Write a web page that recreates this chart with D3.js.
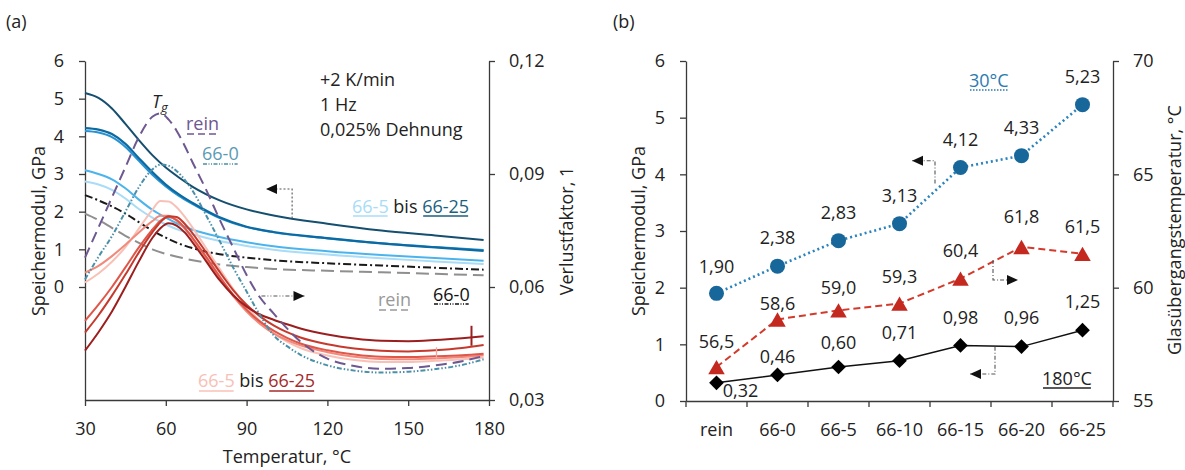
<!DOCTYPE html>
<html><head><meta charset="utf-8">
<script src="https://cdn.jsdelivr.net/npm/d3@7"></script>
<style>
html,body{margin:0;padding:0;background:#fff;}
text{font-family:"Open Sans",sans-serif;font-size:18px;fill:#222;white-space:pre;}
</style></head><body>
<svg id="c" width="1185" height="470"></svg>
<script>
// ---------- DATA ----------
// Panel (a): storage modulus E' (GPa) on a common temperature grid
const tempsE = [30,35,40,45,50,55,60,65,70,80,90,100,120,140,160,178];
const eRein  = [1.95,1.78,1.57,1.36,1.17,1.00,0.88,0.79,0.71,0.60,0.53,0.48,0.43,0.39,0.35,0.31];
const e66_0  = [2.44,2.30,2.14,1.95,1.72,1.50,1.31,1.15,1.03,0.87,0.78,0.71,0.63,0.57,0.51,0.46];
const e66_5  = [2.80,2.72,2.58,2.35,2.07,1.84,1.66,1.51,1.40,1.22,1.09,0.99,0.86,0.76,0.68,0.61];
const e66_10 = [3.10,3.00,2.86,2.62,2.32,2.05,1.84,1.66,1.52,1.33,1.19,1.08,0.95,0.85,0.77,0.70];
const e66_15 = [4.14,4.10,3.98,3.72,3.35,2.98,2.67,2.41,2.20,1.83,1.59,1.45,1.29,1.16,1.06,0.98];
const e66_20 = [4.22,4.18,4.06,3.80,3.42,3.05,2.72,2.45,2.23,1.85,1.60,1.46,1.30,1.16,1.05,0.96];
const e66_25 = [5.15,5.02,4.74,4.33,3.90,3.50,3.17,2.90,2.66,2.30,2.06,1.90,1.68,1.50,1.37,1.25];

// Panel (a): loss factor tan delta on a common temperature grid
const tempsT = [30,35,40,45,50,55,58,61,64,67,70,75,80,85,90,95,100,105,110,120,130,140,150,160,170,178];
const tRein  = [.0678,.0758,.0838,.0918,.0998,.1052,.1061,.1045,.1015,.0975,.0930,.0858,.0779,.0705,.0632,.0572,.0530,.0490,.0455,.0410,.0390,.0383,.0385,.0392,.0403,.0417];
const t66_0  = [.0620,.0680,.0735,.0800,.0865,.0912,.0925,.0922,.0908,.0885,.0855,.0790,.0722,.0652,.0588,.0525,.0472,.0443,.0420,.0392,.0378,.0373,.0375,.0382,.0393,.0408];
const t66_5  = [.0612,.0636,.0667,.0706,.0755,.0805,.0828,.0827,.0812,.0787,.0757,.0703,.0648,.0595,.0548,.0509,.0478,.0455,.0438,.0418,.0406,.0401,.0401,.0404,.0408,.0413];
const t66_10 = [.0638,.0656,.0682,.0712,.0745,.0775,.0789,.0789,.0776,.0755,.0728,.0676,.0624,.0576,.0535,.0502,.0477,.0459,.0445,.0427,.0415,.0409,.0408,.0410,.0414,.0419];
const t66_15 = [.0510,.0553,.0600,.0652,.0705,.0752,.0776,.0786,.0778,.0757,.0730,.0680,.0628,.0580,.0540,.0508,.0484,.0465,.0450,.0432,.0421,.0415,.0414,.0416,.0419,.0423];
const t66_20 = [.0479,.0525,.0577,.0633,.0692,.0745,.0772,.0788,.0786,.0768,.0742,.0692,.0640,.0592,.0553,.0522,.0498,.0480,.0466,.0448,.0437,.0431,.0429,.0432,.0438,.0446];
const t66_25 = [.0431,.0480,.0535,.0600,.0668,.0730,.0756,.0769,.0763,.0745,.0718,.0668,.0618,.0578,.0548,.0527,.0513,.0501,.0490,.0474,.0463,.0457,.0456,.0459,.0464,.0469];
// small error marks on tan delta curves: [temperature, low, high]
const errMarks = [[173.5,.0444,.0497],[160.5,.0409,.0440]];

// Panel (b)
const categories = ["rein","66-0","66-5","66-10","66-15","66-20","66-25"];
const mod30  = [1.90,2.38,2.83,3.13,4.12,4.33,5.23];
const mod180 = [0.32,0.46,0.60,0.71,0.98,0.96,1.25];
const tg     = [56.5,58.6,59.0,59.3,60.4,61.8,61.5];

// tick values
const ticksAx = [30,60,90,120,150,180];
const ticksAL = [0,1,2,3,4,5,6];
const ticksAR = [0.03,0.06,0.09,0.12];
const ticksBL = [0,1,2,3,4,5,6];
const ticksBR = [55,60,65,70];

// ---------- DRAWING ----------
const svg = d3.select("#c");
const loc = d3.formatLocale({decimal:",",thousands:".",grouping:[3],currency:["","€"]});
const f2 = loc.format(".2f"), f1 = loc.format(".1f");
const axisCol = "#3a3a3a";

function styleAxis(g){
  g.select(".domain").attr("stroke",axisCol).attr("stroke-width",1.3);
  g.selectAll(".tick line").attr("stroke",axisCol).attr("stroke-width",1.3);
  g.selectAll(".tick text").style("font-family","Open Sans").style("font-size","18px").attr("fill","#222");
}

// ===== Panel (a) =====
const xA  = d3.scaleLinear([30,180],[85,489]);
const yAL = d3.scaleLinear([-3,6],[400,61]);
const yAR = d3.scaleLinear([0.03,0.12],[400,61]);

svg.append("g").attr("transform","translate(0,400)")
  .call(d3.axisBottom(xA).tickValues(ticksAx).tickFormat(d3.format("d")).tickSize(6).tickSizeOuter(0).tickPadding(16))
  .call(styleAxis);
svg.append("g").attr("transform","translate(85,0)")
  .call(d3.axisLeft(yAL).tickValues(ticksAL).tickFormat(d3.format("d")).tickSize(6).tickSizeOuter(0).tickPadding(15))
  .call(styleAxis);
svg.append("g").attr("transform","translate(489,0)")
  .call(d3.axisRight(yAR).tickValues(ticksAR).tickFormat(f2).tickSize(6).tickSizeOuter(0).tickPadding(14))
  .call(styleAxis);

const lineE = d3.line().x(d=>xA(d[0])).y(d=>yAL(d[1])).curve(d3.curveMonotoneX);
const lineT = d3.line().x(d=>xA(d[0])).y(d=>yAR(d[1])).curve(d3.curveMonotoneX);
const zipE = v => tempsE.map((t,i)=>[t,v[i]]);
const zipT = v => tempsT.map((t,i)=>[t,v[i]]);

const gA = svg.append("g").attr("fill","none");
const tanSeries = [
  {v:t66_5,  c:"#f8c0b6", w:2},
  {v:t66_10, c:"#f08a7c", w:2},
  {v:t66_15, c:"#e0574a", w:2},
  {v:t66_20, c:"#c63a2e", w:2},
  {v:t66_25, c:"#9c1f1f", w:2},
  {v:t66_0,  c:"#4a90a8", w:2, dash:"5,2,1.5,2,1.5,2"},
  {v:tRein,  c:"#6e5891", w:2, dash:"11,6"}
];
const modSeries = [
  {v:eRein,  c:"#8f8f8f", w:2, dash:"13,6"},
  {v:e66_0,  c:"#1a1a1a", w:2, dash:"8,3,2,3"},
  {v:e66_5,  c:"#a8dcf7", w:2},
  {v:e66_10, c:"#4cb4ec", w:2},
  {v:e66_15, c:"#2792d2", w:2},
  {v:e66_20, c:"#0c6aa2", w:2.2},
  {v:e66_25, c:"#154f70", w:2}
];
modSeries.forEach(s=>{
  gA.append("path").attr("d",lineE(zipE(s.v))).attr("stroke",s.c).attr("stroke-width",s.w)
    .attr("stroke-dasharray",s.dash||null);
});
tanSeries.forEach(s=>{
  gA.append("path").attr("d",lineT(zipT(s.v))).attr("stroke",s.c).attr("stroke-width",s.w)
    .attr("stroke-dasharray",s.dash||null);
});
const errCols = ["#9c1f1f","#f4a69a"];
errMarks.forEach((m,i)=>{
  gA.append("line").attr("x1",xA(m[0])).attr("x2",xA(m[0])).attr("y1",yAR(m[1])).attr("y2",yAR(m[2]))
    .attr("stroke",errCols[i]).attr("stroke-width",i===0?2:1.3);
});

function arrow(pts, dir, dash){
  svg.append("path").attr("d",d3.line()(pts)).attr("fill","none").attr("stroke","#555")
    .attr("stroke-width",1.1).attr("stroke-dasharray",dash);
  const [tx,ty] = pts[pts.length-1];
  const s = dir==="left" ? 1 : -1;
  svg.append("path").attr("d",`M${tx},${ty} L${tx+s*11},${ty-5} L${tx+s*11},${ty+5} Z`).attr("fill","#111");
}
arrow([[xA(106.9),yAL(1.82)],[xA(106.9),yAL(2.6)],[xA(97.2),yAL(2.6)]],"left","2,2");
arrow([[xA(95.5),yAR(0.0576)],[xA(111.5),yAR(0.0576)]],"right","4,2,1,2,1,2");

function legendRow(x,y,parts){
  let cx=x;
  parts.forEach(p=>{
    const t=svg.append("text").attr("x",cx).attr("y",y).style("fill",p.color).text(p.t);
    const w=t.node().getComputedTextLength();
    if(p.ul){
      svg.append("line").attr("x1",cx+1).attr("x2",cx+w-1).attr("y1",y+p.ulOff).attr("y2",y+p.ulOff)
        .attr("stroke",p.ul).attr("stroke-width",p.ulW||1.6).attr("stroke-dasharray",p.dash||null);
    }
    cx+=w;
  });
}

svg.append("text").attr("x",320).attr("y",86).text("+2 K/min");
svg.append("text").attr("x",320).attr("y",111).text("1 Hz");
svg.append("text").attr("x",320).attr("y",136).text("0,025% Dehnung");
const tgT = svg.append("text").attr("x",152).attr("y",108).style("font-style","italic");
tgT.append("tspan").text("T");
tgT.append("tspan").attr("dy",4).style("font-size","13px").text("g");

legendRow(186,130,[{t:"rein",color:"#6e5891",ul:"#6e5891",ulOff:4,dash:"7,4"}]);
legendRow(202,160,[{t:"66-0",color:"#5a9ab5",ul:"#4a90a8",ulOff:4,ulW:1.3,dash:"4,1.5,1,1.5,1,1.5"}]);
legendRow(352,213,[
  {t:"66-5",color:"#a8dcf7",ul:"#a8dcf7",ulOff:3},
  {t:" bis ",color:"#222"},
  {t:"66-25",color:"#1d5f80",ul:"#1d5f80",ulOff:3}
]);
legendRow(378,306,[{t:"rein",color:"#999",ul:"#999",ulOff:4,dash:"7,4"}]);
legendRow(433,301,[{t:"66-0",color:"#111",ul:"#111",ulOff:3,ulW:1.3,dash:"4,1.5,1,1.5,1,1.5"}]);
legendRow(198,387,[
  {t:"66-5",color:"#f8c0b6",ul:"#f8c0b6",ulOff:4},
  {t:" bis ",color:"#222"},
  {t:"66-25",color:"#a52a2a",ul:"#a52a2a",ulOff:4}
]);

svg.append("text").attr("transform","translate(45,231) rotate(-90)").attr("text-anchor","middle").text("Speichermodul, GPa");
svg.append("text").attr("transform","translate(573,231) rotate(-90)").attr("text-anchor","middle").text("Verlustfaktor, 1");
svg.append("text").attr("x",287).attr("y",463).attr("text-anchor","middle").text("Temperatur, °C");
svg.append("text").attr("x",6).attr("y",28).text("(a)");

// ===== Panel (b) =====
const xB  = d3.scaleBand(categories,[686,1113]);
const yBL = d3.scaleLinear([0,6],[401,61]);
const yBR = d3.scaleLinear([55,70],[401,61]);
const cx = c => xB(c)+xB.bandwidth()/2;

svg.append("g").attr("transform","translate(0,401)")
  .call(d3.axisBottom(xB).tickSize(0).tickPadding(22).tickSizeOuter(0)).call(styleAxis);
const bounds = categories.map(c=>xB(c)).concat([xB(categories[categories.length-1])+xB.bandwidth()]);
svg.append("g").selectAll("line").data(bounds).join("line")
  .attr("x1",d=>d).attr("x2",d=>d).attr("y1",401).attr("y2",407).attr("stroke",axisCol).attr("stroke-width",1.3);
svg.append("g").attr("transform","translate(686,0)")
  .call(d3.axisLeft(yBL).tickValues(ticksBL).tickFormat(d3.format("d")).tickSize(6).tickSizeOuter(0).tickPadding(15))
  .call(styleAxis);
svg.append("g").attr("transform","translate(1113,0)")
  .call(d3.axisRight(yBR).tickValues(ticksBR).tickFormat(d3.format("d")).tickSize(6).tickSizeOuter(0).tickPadding(14))
  .call(styleAxis);

const blue="#17679a", red="#c4291f";
svg.append("path").attr("d",d3.line().x((d,i)=>cx(categories[i])).y(d=>yBL(d))(mod180))
  .attr("fill","none").attr("stroke","#111").attr("stroke-width",1.5);
svg.append("path").attr("d",d3.line().x((d,i)=>cx(categories[i])).y(d=>yBR(d))(tg))
  .attr("fill","none").attr("stroke","#d33a2c").attr("stroke-width",2).attr("stroke-dasharray","7,4");
svg.append("path").attr("d",d3.line().x((d,i)=>cx(categories[i])).y(d=>yBL(d))(mod30))
  .attr("fill","none").attr("stroke","#2a83bd").attr("stroke-width",2.6).attr("stroke-dasharray","2,3");
svg.append("g").selectAll("path").data(mod180).join("path")
  .attr("d",d3.symbol(d3.symbolSquare,108)())
  .attr("transform",(d,i)=>`translate(${cx(categories[i])},${yBL(d)}) rotate(45)`).attr("fill","#000");
svg.append("g").selectAll("path").data(tg).join("path")
  .attr("d",d3.symbol(d3.symbolTriangle,118)())
  .attr("transform",(d,i)=>`translate(${cx(categories[i])},${yBR(d)+2.5})`).attr("fill",red);
svg.append("g").selectAll("circle").data(mod30).join("circle")
  .attr("cx",(d,i)=>cx(categories[i])).attr("cy",d=>yBL(d)).attr("r",7.5).attr("fill",blue);

const dy30  = [-27,-28,-28,-28,-28,-28,-28];
const dyTg  = [-25,-16,-23,-27,-28,-30,-27];
const dy180 = [8,-18,-24,-28,-28,-29,-28];
const dx180 = [24,0,0,0,0,0,0];
function labels(vals,scale,dys,fmt,dxs){
  svg.append("g").selectAll("text").data(vals).join("text")
    .attr("x",(d,i)=>cx(categories[i])+(dxs?dxs[i]:0)).attr("y",(d,i)=>scale(d)+dys[i])
    .attr("dy","0.35em").attr("text-anchor","middle").text(d=>fmt(d));
}
labels(mod30,yBL,dy30,f2);
labels(tg,yBR,dyTg,f1);
labels(mod180,yBL,dy180,f2,dx180);

arrow([[xB("66-15")+5,yBL(3.84)],[xB("66-15")+5,yBL(4.24)],[xB("66-15")-18,yBL(4.24)]],"left","4,2,1,2");
arrow([[xB("66-20")+2,yBR(61.22)],[xB("66-20")+2,yBR(60.34)],[xB("66-20")+27,yBR(60.34)]],"right","4,2,1,2");
arrow([[xB("66-20")+4,yBL(0.958)],[xB("66-20")+4,yBL(0.476)],[xB("66-20")-21,yBL(0.476)]],"left","4,2,1,2");

legendRow(969,87,[{t:"30°C",color:"#2c7ab0",ul:"#2c7ab0",ulOff:3,ulW:1.6,dash:"1.5,1.5"}]);
legendRow(1042,385,[{t:"180°C",color:"#222",ul:"#222",ulOff:3,ulW:1.4}]);

svg.append("text").attr("transform","translate(645,231) rotate(-90)").attr("text-anchor","middle").text("Speichermodul, GPa");
svg.append("text").attr("transform","translate(1181,230) rotate(-90)").attr("text-anchor","middle").text("Glasübergangstemperatur, °C");
svg.append("text").attr("x",613).attr("y",28).text("(b)");
</script>
</body></html>
